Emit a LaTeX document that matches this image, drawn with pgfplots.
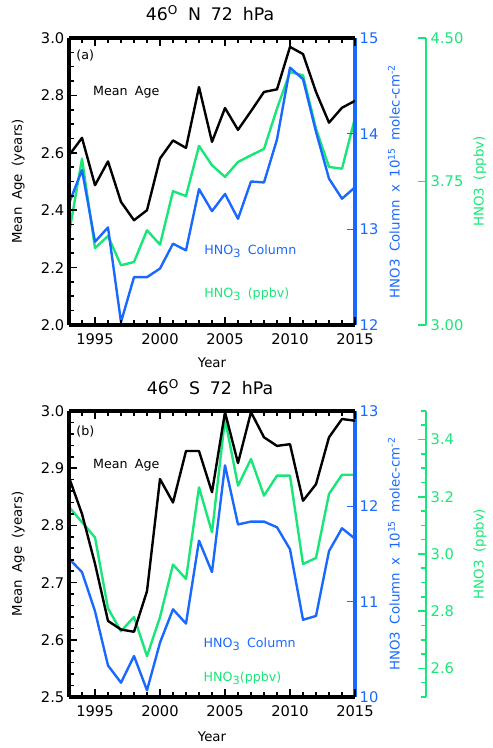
\documentclass[border=0pt]{standalone}
\usepackage{fontspec}
\setmainfont{DejaVu Sans}[WordSpace=1.8]
\usepackage{pgfplots}
\usepackage{pgfplotstable}
\pgfplotsset{compat=1.18}

\definecolor{hblue}{RGB}{25,105,255}
\definecolor{hgreen}{RGB}{25,230,120}

% Annual means at 72 hPa: mean age (years), HNO3 column (1e15 molec/cm2), HNO3 (ppbv)
\pgfplotstableread{
year age   col   ppbv
1993 2.591 13.27 3.477
1994 2.652 13.62 3.869
1995 2.487 12.87 3.402
1996 2.570 13.02 3.465
1997 2.429 12.03 3.312
1998 2.365 12.50 3.329
1999 2.400 12.50 3.495
2000 2.580 12.59 3.420
2001 2.643 12.85 3.699
2002 2.617 12.78 3.674
2003 2.829 13.42 3.936
2004 2.638 13.19 3.835
2005 2.756 13.37 3.774
2006 2.680 13.11 3.852
2007 2.745 13.50 3.887
2008 2.812 13.49 3.920
2009 2.821 13.94 4.131
2010 2.969 14.69 4.322
2011 2.944 14.57 4.305
2012 2.812 14.02 4.026
2013 2.705 13.53 3.826
2014 2.757 13.32 3.817
2015 2.781 13.44 4.082
}\north

\pgfplotstableread{
year age   col   ppbv
1993 2.884 11.45 3.165
1994 2.820 11.31 3.111
1995 2.733 10.90 3.058
1996 2.633 10.33 2.810
1997 2.618 10.15 2.730
1998 2.614 10.43 2.780
1999 2.685 10.07 2.643
2000 2.881 10.57 2.779
2001 2.840 10.92 2.963
2002 2.930 10.77 2.913
2003 2.930 11.64 3.233
2004 2.858 11.31 3.076
2005 2.998 12.43 3.472
2006 2.909 11.81 3.239
2007 2.998 11.84 3.332
2008 2.954 11.84 3.204
2009 2.939 11.78 3.274
2010 2.942 11.55 3.274
2011 2.843 10.81 2.965
2012 2.872 10.85 2.986
2013 2.954 11.53 3.210
2014 2.986 11.77 3.277
2015 2.983 11.66 3.277
}\south

\newcommand{\sub}[1]{\raisebox{-0.45ex}{\fontsize{8.5}{8.5}\selectfont #1}}

\tikzset{
  series/.style={line width=1.8pt, line join=round},
  txt/.style={anchor=base west, font=\fontsize{9.5}{11}\selectfont},
}

\pgfplotsset{
  base/.style={
    scale only axis, width=214.5pt, anchor=south west,
    xmin=1993, xmax=2015,
    tick align=inside,
    major tick length=6pt, minor tick length=3.6pt,
    /pgf/number format/assume math mode=true,
    tick label style={font=\fontsize{11}{13}\selectfont},
    label style={font=\fontsize{11}{13}\selectfont},
  },
  agestyle/.style={
    base,
    xtick={1995,2000,2005,2010,2015},
    minor xtick={1993,1994,...,2015},
    axis x line=box, axis y line*=left,
    axis line style={line width=2.4pt, black},
    tick style={line width=1.2pt, black},
    xticklabel style={/pgf/number format/1000 sep={}, yshift=-3pt},
    yticklabel style={/pgf/number format/.cd, fixed, fixed zerofill, precision=1},
    xlabel={Year}, ylabel={Mean Age (years)},
    every axis y label/.style={at={(axis description cs:-0.178,0.5)}, anchor=center, rotate=90},
    title style={font=\fontsize{13}{15}\selectfont, anchor=center},
  },
  colstyle/.style={
    base, hide x axis, axis y line*=right,
    y axis line style={line width=2.4pt, hblue},
    ytick style={line width=1.2pt, hblue},
    yticklabel style={text=hblue},
    ylabel={HNO3 Column x 10\textsuperscript{15} molec-cm\textsuperscript{-2}},
    every axis y label/.style={at={(axis description cs:1.136,0.5)}, anchor=center, rotate=90, text=hblue},
  },
  ppbvscale/.style={
    base, hide x axis, axis y line*=right,
    y axis line style={line width=2.2pt, hgreen},
    ytick style={line width=1.2pt, hgreen},
    yticklabel style={text=hgreen},
    ylabel={HNO3 (ppbv)},
    every axis y label/.style={at={(axis description cs:1.189,0.5)}, anchor=center, rotate=90, text=hgreen},
  },
}

\begin{document}
\begin{tikzpicture}
\useasboundingbox (0,0) rectangle (369pt,561pt);

% ---------- (a) 46N ----------
\begin{axis}[base, hide axis, at={(51.75pt,317.25pt)}, height=215.25pt, ymin=3, ymax=4.5]
  \addplot[series, hgreen] table[x=year, y=ppbv] {\north};
\end{axis}
\begin{axis}[colstyle, at={(51.75pt,317.25pt)}, height=215.25pt, ymin=12, ymax=15, ytick={12,13,14,15}]
  \addplot[series, hblue] table[x=year, y=col] {\north};
\end{axis}
\begin{axis}[ppbvscale, at={(105pt,317.25pt)}, height=215.25pt, ymin=3, ymax=4.5,
  ytick={3,3.75,4.5},
  yticklabel style={/pgf/number format/.cd, fixed, fixed zerofill, precision=2}]
\end{axis}
\begin{axis}[agestyle, at={(51.75pt,317.25pt)}, height=215.25pt, ymin=2, ymax=3,
  ytick={2,2.2,2.4,2.6,2.8,3.0}, minor ytick={2,2.05,...,3.0},
  title={46\textsuperscript{O} N 72 hPa},
  title style={at={(axis description cs:0.493,1.059)}},
  every axis x label/.style={at={(axis description cs:0.5,-0.132)}, anchor=center}]
  \addplot[series, black] table[x=year, y=age] {\north};
  \node[txt] at (axis cs:1993.2,2.925) {(a)};
  \node[txt] at (axis cs:1994.5,2.798) {Mean Age};
  \node[txt, text=hblue] at (axis cs:2003.05,2.247) {HNO\sub{3} Column};
  \node[txt, text=hgreen] at (axis cs:2003.05,2.097) {HNO\sub{3} (ppbv)};
\end{axis}

% ---------- (b) 46S ----------
\begin{axis}[base, hide axis, at={(51.75pt,38.25pt)}, height=214.5pt, ymin=2.5, ymax=3.5]
  \addplot[series, hgreen] table[x=year, y=ppbv] {\south};
\end{axis}
\begin{axis}[colstyle, at={(51.75pt,38.25pt)}, height=214.5pt, ymin=10, ymax=13, ytick={10,11,12,13}]
  \addplot[series, hblue] table[x=year, y=col] {\south};
\end{axis}
\begin{axis}[ppbvscale, at={(105pt,38.25pt)}, height=214.5pt, ymin=2.5, ymax=3.5,
  ytick={2.6,2.8,3.0,3.2,3.4}, minor ytick={2.5,2.55,...,3.5},
  yticklabel style={/pgf/number format/.cd, fixed, fixed zerofill, precision=1}]
\end{axis}
\begin{axis}[agestyle, at={(51.75pt,38.25pt)}, height=214.5pt, ymin=2.5, ymax=3.0,
  ytick={2.5,2.6,2.7,2.8,2.9,3.0}, minor ytick={2.5,2.52,...,3.0},
  title={46\textsuperscript{O} S 72 hPa},
  title style={at={(axis description cs:0.493,1.056)}},
  every axis x label/.style={at={(axis description cs:0.5,-0.14)}, anchor=center}]
  \addplot[series, black] table[x=year, y=age] {\south};
  \node[txt] at (axis cs:1993.2,2.958) {(b)};
  \node[txt] at (axis cs:1994.5,2.899) {Mean Age};
  \node[txt, text=hblue] at (axis cs:2003.0,2.587) {HNO\sub{3} Column};
  \node[txt, text=hgreen] at (axis cs:2003.0,2.527) {HNO\sub{3}(ppbv)};
\end{axis}
\end{tikzpicture}
\end{document}
